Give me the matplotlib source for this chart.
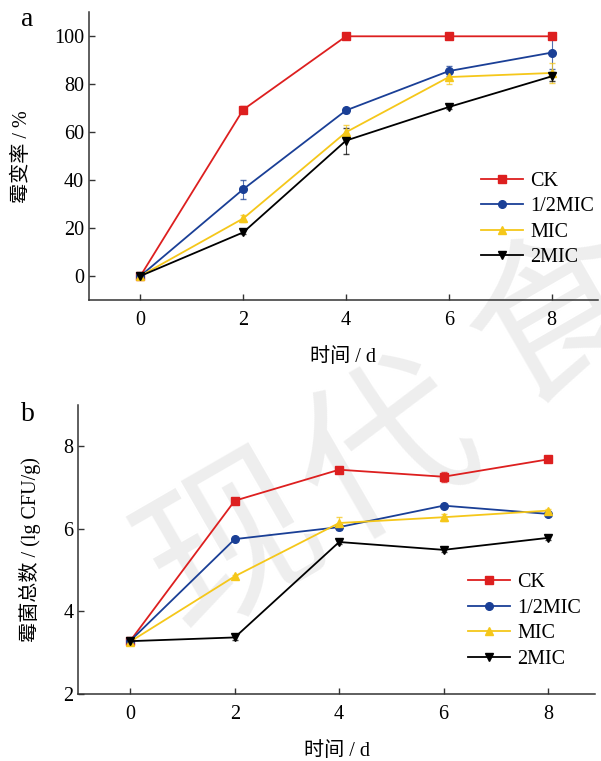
import matplotlib
matplotlib.use('Agg')
import matplotlib.pyplot as plt

plt.rcParams['font.family'] = ['Liberation Serif', 'Noto Sans CJK SC']

days = [0, 2, 4, 6, 8]
groups = ['CK', '1/2MIC', 'MIC', '2MIC']
colors = ['#dd1f1f', '#1a3f96', '#f5c71a', '#000000']
markers = ['s', 'o', '^', 'v']

# panel a: mould rate (%)
rate_ck = [0, 69.4, 100, 100, 100]
rate_half = [0, 36.2, 69.1, 85.5, 93.2]
rate_mic = [0, 24.0, 60.0, 83.0, 84.7]
rate_2mic = [0, 18.2, 56.5, 70.5, 83.3]
rate_err_ck = [0, 1.5, 0, 0, 0]
rate_err_half = [0, 4.0, 1.0, 2.0, 7.0]
rate_err_mic = [0, 1.5, 3.0, 3.0, 4.0]
rate_err_2mic = [0, 0.8, 5.4, 1.0, 2.0]

# panel b: total mould count (lg CFU/g)
count_ck = [3.29, 6.68, 7.43, 7.26, 7.68]
count_half = [3.29, 5.75, 6.04, 6.56, 6.36]
count_mic = [3.27, 4.85, 6.14, 6.28, 6.44]
count_2mic = [3.28, 3.37, 5.68, 5.49, 5.78]
count_err_ck = [0.03, 0.04, 0.04, 0.12, 0.04]
count_err_half = [0.03, 0.04, 0.06, 0.04, 0.04]
count_err_mic = [0.03, 0.04, 0.15, 0.08, 0.05]
count_err_2mic = [0.03, 0.07, 0.04, 0.04, 0.04]

rate_vals = [rate_ck, rate_half, rate_mic, rate_2mic]
rate_errs = [rate_err_ck, rate_err_half, rate_err_mic, rate_err_2mic]
count_vals = [count_ck, count_half, count_mic, count_2mic]
count_errs = [count_err_ck, count_err_half, count_err_mic, count_err_2mic]

fig = plt.figure(figsize=(6.01, 7.61), dpi=100)

# faint watermark behind the plots
for ch, (wx, wy) in zip('现代食', [(0.39, 0.28), (0.645, 0.40), (0.93, 0.58)]):
    fig.text(wx, wy, ch, fontsize=125, color='#eeeeee', rotation=30,
             ha='center', va='center', family='Noto Sans CJK SC', zorder=-5)

ax_a = fig.add_axes([0.148, 0.6058, 0.847, 0.378])
ax_b = fig.add_axes([0.130, 0.088, 0.860, 0.380])


def draw_panel(ax, vals, errs, ylim, yticks, ylabel, letter, letter_pos,
               legend_anchor):
    ax.patch.set_alpha(0)
    for g, c, m, v, e in zip(groups, colors, markers, vals, errs):
        ax.errorbar(days, v, yerr=e, fmt='none', ecolor=c, elinewidth=0.8,
                    capsize=2.5, alpha=0.75, zorder=3)
        ax.plot(days, v, color=c, marker=m, markersize=5.5, linewidth=1.3,
                label=g, zorder=4)
    ax.set_xlim(-1, 8.9)
    ax.set_ylim(*ylim)
    ax.set_xticks(days)
    ax.set_yticks(yticks)
    ax.tick_params(direction='in', length=4, width=1, labelsize=14.5,
                   color='#333333')
    ax.tick_params(axis='x', pad=8)
    ax.spines['top'].set_visible(False)
    ax.spines['right'].set_visible(False)
    for s in ['left', 'bottom']:
        ax.spines[s].set_linewidth(1.1)
        ax.spines[s].set_color('#333333')
    ax.set_xlabel('时间 / d', fontsize=14.5, labelpad=13)
    ax.set_ylabel(ylabel, fontsize=14.5, labelpad=16)
    ax.text(letter_pos[0], letter_pos[1], letter, transform=ax.transAxes,
            fontsize=20, va='center', ha='left')
    ax.legend(loc='center left', bbox_to_anchor=legend_anchor, frameon=False,
              fontsize=14.5, handlelength=2.1, handletextpad=0.35,
              labelspacing=0.32, borderpad=0, borderaxespad=0)


draw_panel(ax_a, rate_vals, rate_errs, (-10, 110), [0, 20, 40, 60, 80, 100],
           '霉变率 / %', 'a', (-0.134, 0.975), (0.77, 0.28))
draw_panel(ax_b, count_vals, count_errs, (2, 9), [2, 4, 6, 8],
           '霉菌总数 / (lg CFU/g)', 'b', (-0.11, 0.965), (0.754, 0.253))

plt.savefig('out.png', dpi=100)
